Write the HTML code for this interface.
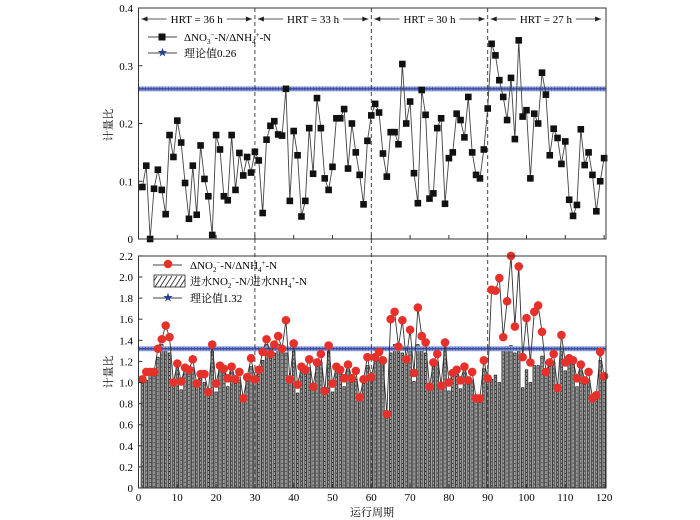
<!DOCTYPE html>
<html><head><meta charset="utf-8"><style>
html,body{margin:0;padding:0;background:#fff;}
svg{display:block;font-family:"Liberation Serif","Noto Serif CJK SC",serif;}
</style></head><body>
<svg id="s" width="700" height="520" xmlns="http://www.w3.org/2000/svg"></svg>
<script>
const X0=138.5,DX=3.88,R=606;
const top0=239,topK=577.5, b0=488,bK=105.5;
const tv=[0.09,0.127,0,0.087,0.12,0.085,0.043,0.18,0.142,0.205,0.167,0.097,0.035,0.127,0.042,0.162,0.104,0.074,0.007,0.18,0.155,0.074,0.067,0.18,0.085,0.149,0.11,0.142,0.115,0.151,
0.136,0.045,0.172,0.196,0.204,0.181,0.179,0.26,0.066,0.187,0.145,0.039,0.066,0.192,0.113,0.244,0.192,0.105,0.085,0.125,0.209,
0.209,0.225,0.122,0.2,0.15,0.111,0.06,0.17,0.214,0.234,0.219,0.148,0.108,0.185,0.185,0.164,0.303,0.2,0.238,0.114,0.062,0.258,0.215,0.07,0.079,0.192,0.209,0.061,0.14,0.15,0.217,0.206,0.176,0.246,0.15,0.111,0.105,0.155,0.226,0.338,0.318,0.275,0.246,0.206,0.279,0.173,0.344,0.212,0.223,0.105,0.217,0.2,0.288,0.25,0.145,0.191,0.175,0.13,0.169,0.068,0.04,0.059,0.19,0.128,0.15,0.111,0.048,0.1,0.14];
const bv=[1.03,1.10,1.10,1.10,1.32,1.41,1.54,1.43,1.00,1.18,1.01,1.14,1.12,1.22,0.99,1.08,1.08,0.91,1.36,0.99,1.16,1.13,1.04,1.15,1.03,1.10,0.85,1.05,1.23,1.03,
1.12,1.29,1.41,1.27,1.36,1.44,1.32,1.59,1.03,1.37,0.98,1.15,1.12,1.22,0.96,1.19,1.27,0.92,1.35,0.99,
1.15,1.12,1.04,1.17,1.04,1.11,0.86,1.03,1.24,1.05,1.24,1.29,1.21,0.70,1.60,1.67,1.34,1.59,1.22,1.50,1.09,1.71,1.44,1.38,0.96,1.19,1.27,0.97,1.38,1.0,
1.09,1.12,1.02,1.15,1.02,1.10,0.85,0.85,1.21,1.04,1.88,1.87,1.99,1.43,1.77,2.20,1.53,2.10,1.24,1.61,1.19,1.67,1.73,1.48,1.10,1.19,1.27,0.95,1.45,1.19,1.23,1.21,1.04,1.17,1.02,1.10,0.85,0.88,1.29,1.06];
const xp=i=>X0+DX*i, ty=v=>top0-v*topK, by=v=>b0-v*bK;
let h='';
for(let i=1;i<=120;i++){let v=bv[i-1];let b;
 if(i>90&&i<=104){b=[1.03,1.07,1.00,1.32,1.34,1.35,1.28,1.32,0.95,1.12,1.00,1.16,1.16,1.25][i-91];}
 else b=Math.min(v,1.36)-0.04*((i*7)%3);
 const x=xp(i)-1.3;
 h+=`<rect x="${x}" y="${by(b)}" width="2.6" height="${b*bK}" fill="#9a9a9a" stroke="#151515" stroke-width="0.7"/>`;
 h+=`<line x1="${xp(i)}" y1="${by(b)+2}" x2="${xp(i)}" y2="${b0}" stroke="#111" stroke-width="0.8" stroke-dasharray="1,3"/>`;}
function theo(y){let s=`<line x1="${X0}" y1="${y}" x2="${R}" y2="${y}" stroke="#8fa0d8" stroke-width="5"/><line x1="${X0}" y1="${y}" x2="${R}" y2="${y}" stroke="#2b3f96" stroke-width="1.2"/>`;
 let p='';for(let x=X0+1;x<R;x+=2.9)p+=`M${x-1.6} ${y}h3.2M${x} ${y-1.8}v3.6`;
 return s+`<path d="${p}" stroke="#3546a0" stroke-width="0.7"/>`;}
h+=theo(ty(0.26));h+=theo(by(1.32));
for(const k of [30,60,90])h+=`<line x1="${xp(k)}" y1="8" x2="${xp(k)}" y2="${b0}" stroke="#333" stroke-width="0.9" stroke-dasharray="4,3"/>`;
h+=`<polyline fill="none" stroke="#444" stroke-width="0.9" points="${tv.map((v,i)=>xp(i+1)+','+ty(v)).join(' ')}"/>`;
tv.forEach((v,i)=>{h+=`<rect x="${xp(i+1)-3.3}" y="${ty(v)-3.3}" width="6.6" height="6.6" fill="#111"/>`;});
h+=`<polyline fill="none" stroke="#333" stroke-width="0.9" points="${bv.map((v,i)=>xp(i+1)+','+by(v)).join(' ')}"/>`;
bv.forEach((v,i)=>{h+=`<circle cx="${xp(i+1)}" cy="${by(v)}" r="4.3" fill="#e8302a"/>`;});
h+=`<rect x="${X0}" y="8" width="${R-X0}" height="${top0-8}" fill="none" stroke="#333" stroke-width="1"/>`;
h+=`<rect x="${X0}" y="256" width="${R-X0}" height="${b0-256}" fill="none" stroke="#333" stroke-width="1"/>`;
for(let k=0;k<=120;k+=10){const x=xp(k);
 h+=`<line x1="${x}" y1="${top0}" x2="${x}" y2="${top0-4}" stroke="#333"/><line x1="${x}" y1="${b0}" x2="${x}" y2="${b0-4}" stroke="#333"/>`;
 h+=`<text x="${x}" y="501" font-size="11" text-anchor="middle">${k}</text>`;}
for(let k=0;k<=4;k++){const y=ty(k/10);h+=`<line x1="${X0}" y1="${y}" x2="${X0+4}" y2="${y}" stroke="#333"/><text x="133" y="${y+4}" font-size="11" text-anchor="end">${k==0?'0':(k/10).toFixed(1)}</text>`;}
for(let k=0;k<=11;k++){const y=by(k*0.2);h+=`<line x1="${X0}" y1="${y}" x2="${X0+4}" y2="${y}" stroke="#333"/><text x="133" y="${y+4}" font-size="11" text-anchor="end">${k==0?'0':(k*0.2).toFixed(1)}</text>`;}
h+=`<text transform="translate(112,125) rotate(-90)" font-size="11" text-anchor="middle">计量比</text>`;
h+=`<text transform="translate(112,372) rotate(-90)" font-size="11" text-anchor="middle">计量比</text>`;
h+=`<text x="372" y="516" font-size="11" text-anchor="middle">运行周期</text>`;
const segs=[[0,30,'HRT =  36 h'],[30,60,'HRT = 33 h'],[60,90,'HRT = 30 h'],[90,120,'HRT = 27 h']];
segs.forEach(([a,b,t])=>{const x1=xp(a)+3,x2=xp(b)-3,m=(x1+x2)/2,y=19;
 h+=`<line x1="${x1}" y1="${y}" x2="${m-30}" y2="${y}" stroke="#222" stroke-width="0.8"/><line x1="${m+30}" y1="${y}" x2="${x2}" y2="${y}" stroke="#222" stroke-width="0.8"/>`;
 h+=`<path d="M${x1} ${y}l6 -2.5v5z M${x2} ${y}l-6 -2.5v5z" fill="#222"/>`;
 h+=`<text x="${m}" y="${y+4}" font-size="11" text-anchor="middle">${t}</text>`;});
h+=`<line x1="148" y1="37" x2="177" y2="37" stroke="#444"/><rect x="158.5" y="33.5" width="7" height="7" fill="#111"/><text x="184" y="41" font-size="11">ΔNO<tspan font-size="7" dy="3">3</tspan><tspan font-size="7" dy="-7">−</tspan><tspan dy="4">-N/ΔNH</tspan><tspan font-size="7" dy="3">4</tspan><tspan font-size="7" dy="-7">+</tspan><tspan dy="4">-N</tspan></text>`;
h+=`<line x1="148" y1="53" x2="177" y2="53" stroke="#444"/><text x="162.5" y="56" font-size="10" fill="#2b3f96" text-anchor="middle">★</text><text x="184" y="57" font-size="11">理论值0.26</text>`;
h+=`<line x1="153" y1="265" x2="182" y2="265" stroke="#444"/><circle cx="168" cy="264" r="4.3" fill="#e8302a"/><text x="190" y="269" font-size="11">ΔNO<tspan font-size="7" dy="3">2</tspan><tspan font-size="7" dy="-7">−</tspan><tspan dy="4">-N/ΔNH</tspan><tspan font-size="7" dy="3">4</tspan><tspan font-size="7" dy="-7">+</tspan><tspan dy="4">-N</tspan></text>`;
let hp='';for(let x=150;x<190;x+=5)hp+=`M${x} 287L${x+7} 276`;
h+=`<clipPath id="c"><rect x="154" y="275" width="31" height="12"/></clipPath><path d="${hp}" stroke="#222" stroke-width="0.8" clip-path="url(#c)"/><rect x="154" y="275" width="31" height="12" fill="none" stroke="#222" stroke-width="0.8"/><text x="190" y="285" font-size="11">进水NO<tspan font-size="7" dy="3">2</tspan><tspan font-size="7" dy="-7">−</tspan><tspan dy="4">-N/进水NH</tspan><tspan font-size="7" dy="3">4</tspan><tspan font-size="7" dy="-7">+</tspan><tspan dy="4">-N</tspan></text>`;
h+=`<line x1="153" y1="298" x2="182" y2="298" stroke="#444"/><text x="168" y="301" font-size="10" fill="#2b3f96" text-anchor="middle">★</text><text x="190" y="302" font-size="11">理论值1.32</text>`;
document.getElementById('s').innerHTML=h;
</script>
</body></html>
